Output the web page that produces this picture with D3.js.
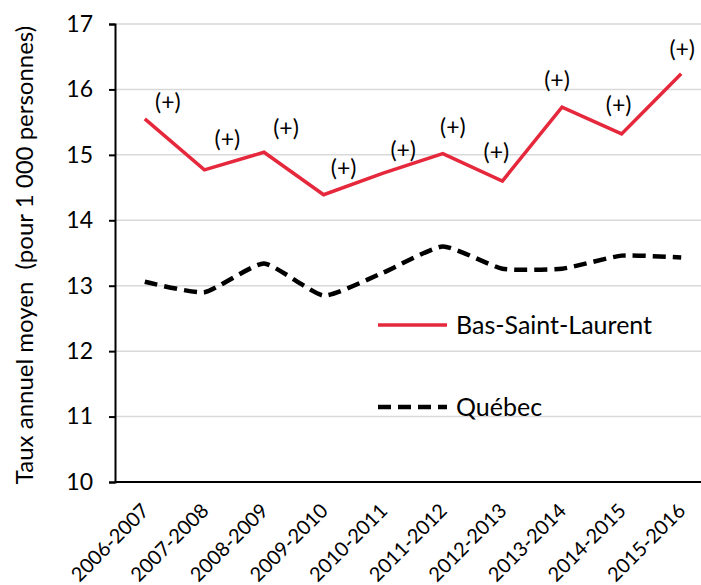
<!DOCTYPE html>
<html>
<head>
<meta charset="utf-8">
<script src="https://cdn.jsdelivr.net/npm/d3@7"></script>
<style>
  body { margin: 0; background: #fff; }
  svg text { font-family: Lato, "Open Sans", sans-serif; fill: #000; }
</style>
</head>
<body>
<script>
var years = ["2006-2007", "2007-2008", "2008-2009", "2009-2010", "2010-2011",
             "2011-2012", "2012-2013", "2013-2014", "2014-2015", "2015-2016"];
var basStLaurent = [15.55, 14.77, 15.04, 14.39, 14.72, 15.02, 14.60, 15.73, 15.32, 16.24];
var quebec = [13.06, 12.90, 13.34, 12.85, 13.20, 13.60, 13.26, 13.26, 13.46, 13.43];
var yTicks = [10, 11, 12, 13, 14, 15, 16, 17];
var signif = ["(+)", "(+)", "(+)", "(+)", "(+)", "(+)", "(+)", "(+)", "(+)", "(+)"];
// hand placed label nudges (dx, dy) as in the original
var labelNudge = [[23, -17], [23, -31], [22, -24], [20, -27], [20, -23],
                  [10, -27], [-6, -29], [-5, -27], [-3, -29], [1, -25]];

var W = 701, H = 585;
var margin = {left: 115, right: 711, top: 24, bottom: 482};

var svg = d3.select("body").append("svg")
    .attr("width", W)
    .attr("height", H);

var x = d3.scalePoint().domain(years).range([margin.left, margin.right]).padding(0.5);
var y = d3.scaleLinear().domain([10, 17]).range([margin.bottom, margin.top]);

// gridlines
svg.append("g")
  .selectAll("line")
  .data(yTicks.slice(1))
  .enter().append("line")
    .attr("x1", margin.left).attr("x2", W)
    .attr("y1", function(d) { return y(d); })
    .attr("y2", function(d) { return y(d); })
    .attr("stroke", "#d9d9d9")
    .attr("stroke-width", 1.5);

// y axis
var yAxis = svg.append("g")
    .attr("transform", "translate(" + margin.left + ",0)")
    .call(d3.axisLeft(y).tickValues(yTicks).tickSize(6).tickPadding(16).tickFormat(d3.format("d")));
yAxis.select(".domain").attr("stroke", "#000").attr("stroke-width", 2);
yAxis.selectAll(".tick line").attr("stroke", "#000").attr("stroke-width", 2);
yAxis.selectAll("text").style("font-size", "23px").attr("fill", "#000");

// x axis
var xAxis = svg.append("g")
    .attr("transform", "translate(0," + margin.bottom + ")")
    .call(d3.axisBottom(x).tickSize(0).tickPadding(0));
xAxis.select(".domain").attr("stroke", "#000").attr("stroke-width", 2)
    .attr("d", "M" + margin.left + ",0H" + W);
xAxis.selectAll("text")
    .style("font-size", "20px")
    .attr("text-anchor", "end")
    .attr("dy", null)
    .attr("y", 0)
    .attr("transform", "translate(5,30) rotate(-45)");

// axis title
svg.append("text")
    .attr("transform", "translate(33," + ((margin.top + margin.bottom) / 2 + 2) + ") rotate(-90)")
    .attr("text-anchor", "middle")
    .style("font-size", "24px")
    .style("white-space", "pre")
    .text("Taux annuel moyen  (pour 1 000 personnes)");

// lines
var redLine = d3.line()
    .x(function(d, i) { return x(years[i]); })
    .y(function(d) { return y(d); });

var blackLine = d3.line()
    .x(function(d, i) { return x(years[i]); })
    .y(function(d) { return y(d); })
    .curve(d3.curveCardinal.tension(0.5));

svg.append("path")
    .datum(quebec)
    .attr("d", blackLine)
    .attr("fill", "none")
    .attr("stroke", "#000")
    .attr("stroke-width", 4.5)
    .attr("stroke-dasharray", "13,7");

svg.append("path")
    .datum(basStLaurent)
    .attr("d", redLine)
    .attr("fill", "none")
    .attr("stroke", "#e6283c")
    .attr("stroke-width", 3.5);

// significance labels
svg.append("g")
  .selectAll("text")
  .data(basStLaurent)
  .enter().append("text")
    .attr("x", function(d, i) { return x(years[i]) + labelNudge[i][0]; })
    .attr("y", function(d, i) { return y(d) + labelNudge[i][1] + 8; })
    .attr("text-anchor", "middle")
    .style("font-size", "23px")
    .text(function(d, i) { return signif[i]; });

// legend
var legend = svg.append("g");
legend.append("line")
    .attr("x1", 378).attr("x2", 447).attr("y1", 325).attr("y2", 325)
    .attr("stroke", "#e6283c").attr("stroke-width", 3.5);
legend.append("text")
    .attr("x", 456).attr("y", 334)
    .style("font-size", "25px")
    .text("Bas-Saint-Laurent");
legend.append("line")
    .attr("x1", 378).attr("x2", 447).attr("y1", 407).attr("y2", 407)
    .attr("stroke", "#000").attr("stroke-width", 4.5)
    .attr("stroke-dasharray", "13,7");
legend.append("text")
    .attr("x", 456).attr("y", 416)
    .style("font-size", "25px")
    .text("Québec");
</script>
</body>
</html>
